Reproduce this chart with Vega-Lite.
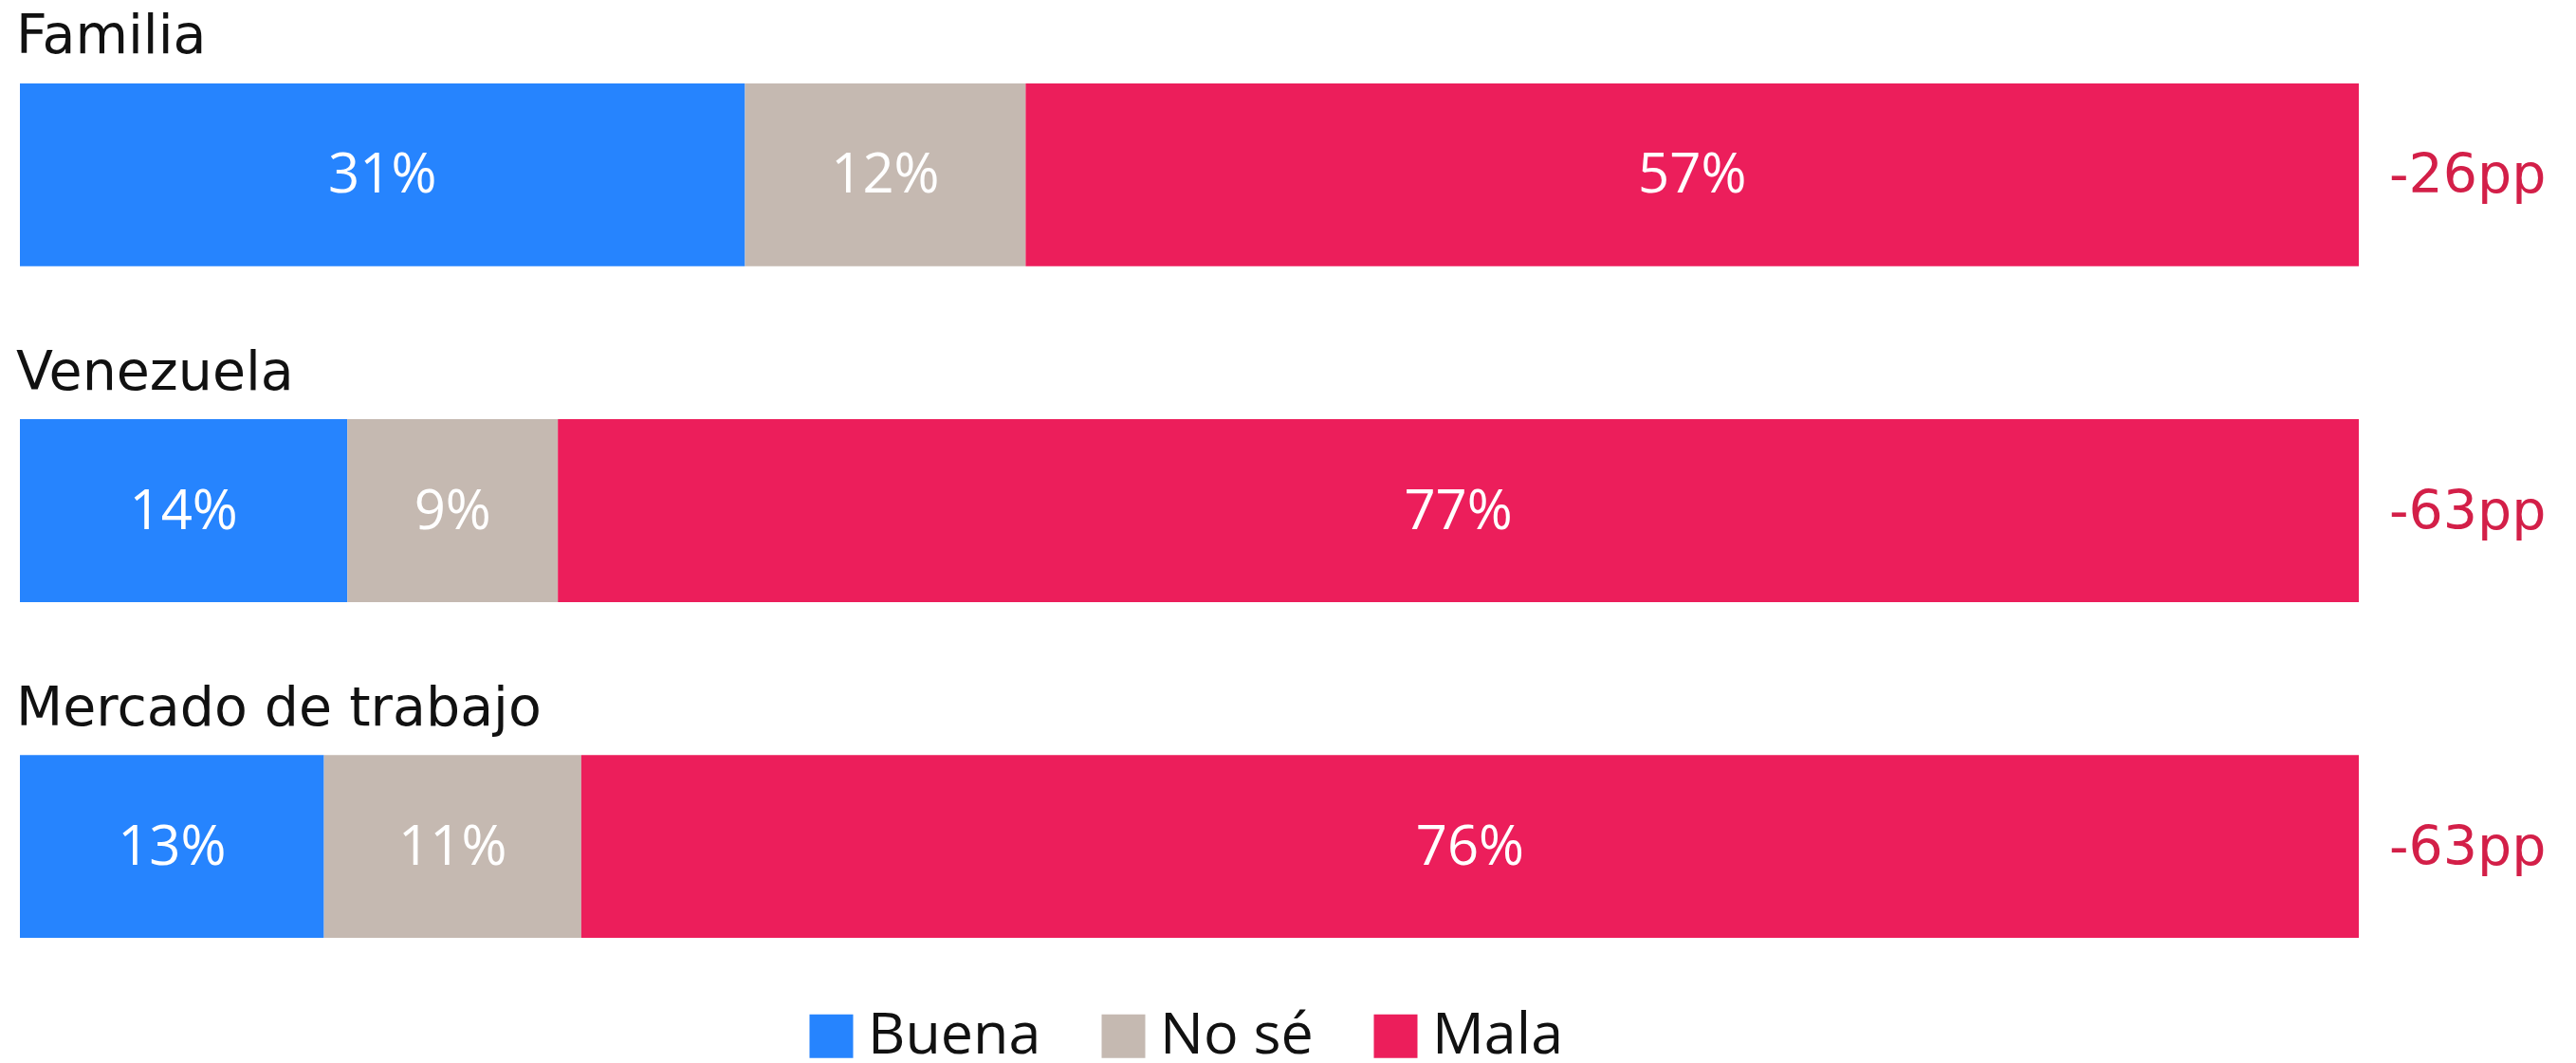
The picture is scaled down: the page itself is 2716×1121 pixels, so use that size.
{
  "$schema": "https://vega.github.io/schema/vega-lite/v6.json",
  "width": 2716,
  "height": 1121,
  "autosize": "none",
  "padding": 0,
  "background": "white",
  "config": {"view": {"stroke": null}, "font": "Open Sans"},
  "datasets": {
    "resp": [
      {"cat": "Familia", "resp": "Buena", "idx": 1, "pct": 0.31},
      {"cat": "Familia", "resp": "No sé", "idx": 2, "pct": 0.12},
      {"cat": "Familia", "resp": "Mala", "idx": 3, "pct": 0.57},
      {"cat": "Venezuela", "resp": "Buena", "idx": 1, "pct": 0.14},
      {"cat": "Venezuela", "resp": "No sé", "idx": 2, "pct": 0.09},
      {"cat": "Venezuela", "resp": "Mala", "idx": 3, "pct": 0.77},
      {"cat": "Mercado de trabajo", "resp": "Buena", "idx": 1, "pct": 0.13},
      {"cat": "Mercado de trabajo", "resp": "No sé", "idx": 2, "pct": 0.11},
      {"cat": "Mercado de trabajo", "resp": "Mala", "idx": 3, "pct": 0.76}
    ],
    "cats": [
      {"cat": "Familia", "net": "-26pp"},
      {"cat": "Venezuela", "net": "-63pp"},
      {"cat": "Mercado de trabajo", "net": "-63pp"}
    ]
  },
  "layer": [
    {
      "data": {"name": "resp"},
      "mark": {"type": "bar"},
      "encoding": {
        "y": {"field": "cat", "type": "nominal", "sort": ["Familia", "Venezuela", "Mercado de trabajo"], "axis": null,
              "scale": {"range": [88, 989], "paddingInner": 0.4556, "paddingOuter": 0}},
        "x": {"field": "pct", "type": "quantitative", "stack": "zero", "axis": null,
              "scale": {"domain": [0, 1], "range": [21, 2487], "nice": false, "zero": true}},
        "color": {"field": "resp", "type": "nominal",
                  "scale": {"domain": ["Buena", "No sé", "Mala"], "range": ["#2684FE", "#C5B9B1", "#EC1E5B"]},
                  "legend": {"orient": "none", "legendX": 846, "legendY": 1062, "direction": "horizontal", "title": null,
                             "symbolType": "square", "symbolSize": 2116, "symbolStrokeWidth": 0, "symbolOpacity": 1,
                             "labelFontSize": 61, "labelFont": "Open Sans", "labelColor": "#111111", "labelLimit": 500,
                             "labelOffset": 8, "columnPadding": 56, "padding": 0}},
        "order": {"field": "idx", "type": "quantitative"}
      }
    },
    {
      "data": {"name": "resp"},
      "mark": {"type": "text", "color": "white", "fontSize": 58, "baseline": "middle", "align": "center", "dy": 2},
      "encoding": {
        "y": {"field": "cat", "type": "nominal", "sort": ["Familia", "Venezuela", "Mercado de trabajo"]},
        "x": {"field": "pct", "type": "quantitative", "stack": "zero", "bandPosition": 0.5},
        "text": {"field": "pct", "type": "quantitative", "format": ".0%"},
        "detail": {"field": "resp"},
        "order": {"field": "idx", "type": "quantitative"}
      }
    },
    {
      "data": {"name": "cats"},
      "mark": {"type": "text", "color": "#111111", "font": "DejaVu Sans", "fontSize": 57, "baseline": "alphabetic", "align": "left", "dy": -128, "dx": -4},
      "encoding": {
        "y": {"field": "cat", "type": "nominal", "sort": ["Familia", "Venezuela", "Mercado de trabajo"]},
        "x": {"datum": 0, "type": "quantitative"},
        "text": {"field": "cat"}
      }
    },
    {
      "data": {"name": "cats"},
      "mark": {"type": "text", "color": "#D31F48", "font": "DejaVu Sans", "fontSize": 57, "baseline": "middle", "align": "left", "dx": 32, "dy": 2},
      "encoding": {
        "y": {"field": "cat", "type": "nominal", "sort": ["Familia", "Venezuela", "Mercado de trabajo"]},
        "x": {"datum": 1, "type": "quantitative"},
        "text": {"field": "net"}
      }
    }
  ]
}
